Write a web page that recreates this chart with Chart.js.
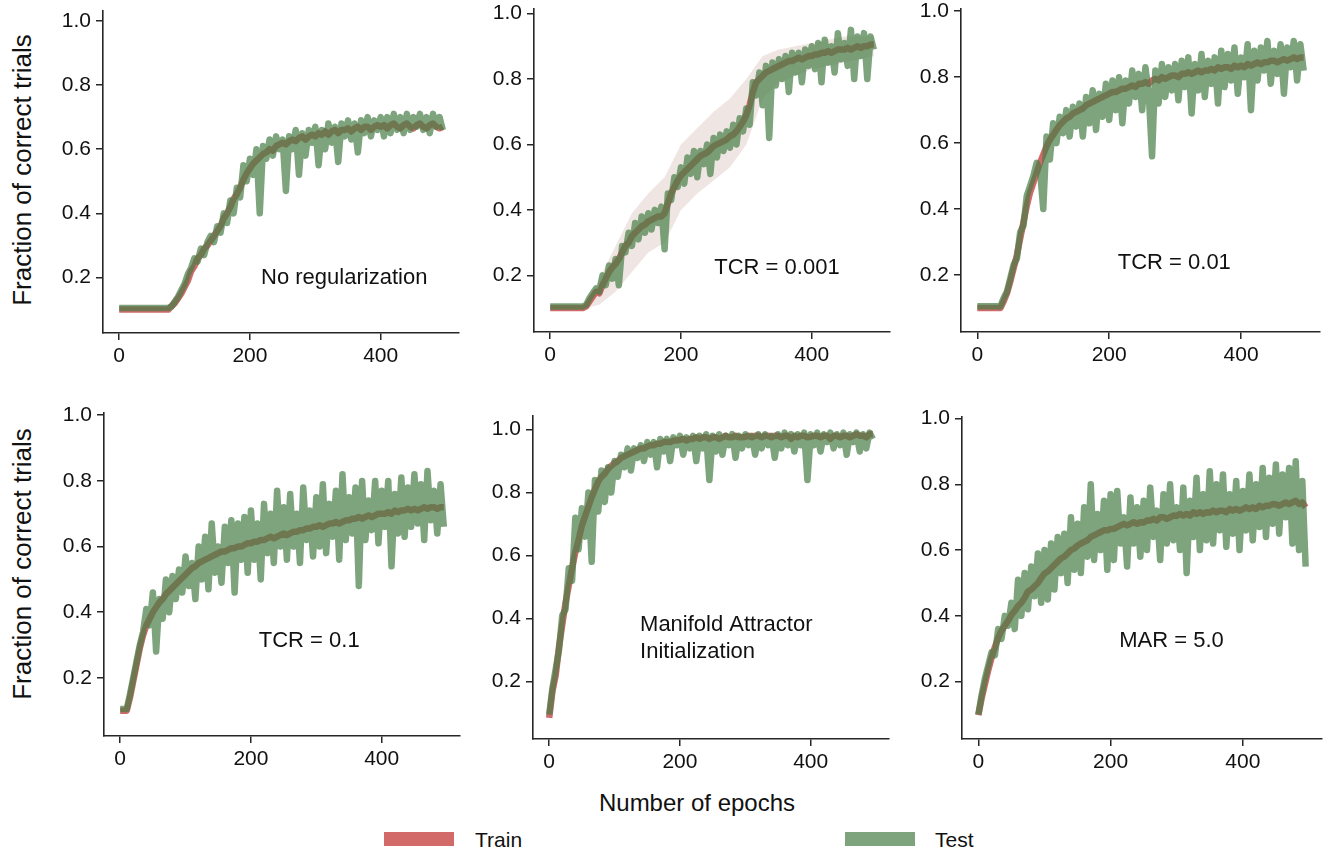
<!DOCTYPE html>
<html>
<head>
<meta charset="utf-8">
<script src="https://cdn.jsdelivr.net/npm/chart.js@4.4.1/dist/chart.umd.min.js"></script>
<style>
  body { margin: 0; background: #fff; }
  #fig { position: relative; width: 1335px; height: 859px; background: #fff; overflow: hidden;
         font-family: "Liberation Sans", Arial, Helvetica, sans-serif; color: #111; }
  #fig canvas { position: absolute; }
  .ylab { position: absolute; font-size: 26px; white-space: nowrap; transform: translate(-50%, -50%) rotate(-90deg); }
  .xlab { position: absolute; font-size: 24px; white-space: nowrap; transform: translate(-50%, -50%); }
  .patch { position: absolute; width: 70px; height: 14px; }
  .legtext { position: absolute; font-size: 21px; transform: translateY(-50%); }
</style>
</head>
<body>
<div id="fig">
  <canvas id="c1"></canvas><canvas id="c2"></canvas><canvas id="c3"></canvas>
  <canvas id="c4"></canvas><canvas id="c5"></canvas><canvas id="c6"></canvas>
  <div class="ylab" style="left:22px; top:170px;">Fraction of correct trials</div>
  <div class="ylab" style="left:22px; top:564px;">Fraction of correct trials</div>
  <div class="xlab" style="left:697px; top:803px;">Number of epochs</div>
  <div class="patch" style="left:384px; top:832px; background:rgb(210,106,106);"></div>
  <div class="legtext" style="left:475px; top:840px;">Train</div>
  <div class="patch" style="left:845px; top:832px; background:rgb(126,164,126);"></div>
  <div class="legtext" style="left:935px; top:840px;">Test</div>
</div>
<script>
// x positions of the samples (every 5 epochs)
const epochs = [0,5,10,15,20,25,30,35,40,45,50,55,60,65,70,75,80,85,90,95,
  100,105,110,115,120,125,130,135,140,145,150,155,160,165,170,175,180,185,190,195,
  200,205,210,215,220,225,230,235,240,245,250,255,260,265,270,275,280,285,290,295,
  300,305,310,315,320,325,330,335,340,345,350,355,360,365,370,375,380,385,390,395,
  400,405,410,415,420,425,430,435,440,445,450,455,460,465,470,475,480,485,490,495];

const xTicks = [0, 200, 400];
const yTicks = [0.2, 0.4, 0.6, 0.8, 1.0];

// No regularization
const p1Train = [0.10,0.10,0.10,0.10,0.10,0.10,0.10,0.10,0.10,0.10,
  0.10,0.10,0.10,0.10,0.10,0.10,0.11,0.12,0.135,0.15,
  0.17,0.19,0.22,0.235,0.26,0.27,0.29,0.30,0.315,0.33,
  0.345,0.36,0.385,0.40,0.42,0.445,0.46,0.48,0.505,0.525,
  0.54,0.555,0.565,0.575,0.585,0.59,0.60,0.595,0.61,0.615,
  0.62,0.615,0.625,0.63,0.625,0.635,0.64,0.63,0.64,0.645,
  0.64,0.65,0.645,0.655,0.645,0.655,0.66,0.65,0.66,0.66,
  0.665,0.655,0.665,0.67,0.66,0.67,0.67,0.66,0.67,0.675,
  0.67,0.675,0.665,0.675,0.68,0.67,0.665,0.675,0.68,0.67,
  0.665,0.675,0.68,0.67,0.665,0.675,0.68,0.67,0.665,0.67];
const p1Test = [0.105,0.105,0.105,0.105,0.105,0.105,0.105,0.105,0.105,0.105,
  0.105,0.105,0.105,0.105,0.105,0.105,0.11,0.125,0.14,0.16,
  0.18,0.21,0.23,0.26,0.25,0.29,0.27,0.31,0.33,0.31,
  0.36,0.34,0.40,0.37,0.44,0.40,0.48,0.45,0.55,0.50,
  0.57,0.52,0.60,0.40,0.61,0.57,0.63,0.58,0.64,0.60,
  0.63,0.47,0.64,0.60,0.66,0.52,0.65,0.58,0.66,0.62,
  0.67,0.55,0.66,0.60,0.68,0.62,0.67,0.56,0.68,0.64,
  0.69,0.63,0.68,0.59,0.69,0.65,0.70,0.64,0.69,0.66,
  0.70,0.64,0.70,0.65,0.71,0.66,0.70,0.65,0.71,0.66,
  0.70,0.67,0.71,0.66,0.70,0.65,0.71,0.67,0.70,0.66];

// TCR = 0.001
const p2Train = [0.10,0.10,0.10,0.10,0.10,0.10,0.10,0.10,0.10,0.10,
  0.10,0.105,0.12,0.135,0.15,0.145,0.17,0.19,0.21,0.225,
  0.235,0.25,0.27,0.29,0.30,0.32,0.33,0.34,0.35,0.355,
  0.365,0.37,0.375,0.38,0.38,0.39,0.42,0.45,0.47,0.49,
  0.505,0.515,0.525,0.535,0.545,0.555,0.565,0.57,0.575,0.585,
  0.595,0.60,0.605,0.61,0.615,0.625,0.63,0.64,0.655,0.67,
  0.69,0.72,0.76,0.79,0.80,0.81,0.82,0.825,0.83,0.835,
  0.84,0.845,0.85,0.855,0.855,0.86,0.865,0.86,0.865,0.87,
  0.87,0.875,0.875,0.88,0.88,0.885,0.88,0.885,0.89,0.89,
  0.89,0.895,0.89,0.895,0.90,0.895,0.90,0.90,0.905,0.905];
const p2Test = [0.105,0.105,0.105,0.105,0.105,0.105,0.105,0.105,0.105,0.105,
  0.105,0.11,0.13,0.145,0.16,0.15,0.20,0.17,0.23,0.19,
  0.25,0.17,0.29,0.27,0.33,0.29,0.36,0.31,0.38,0.33,
  0.39,0.34,0.40,0.36,0.41,0.28,0.45,0.43,0.50,0.47,
  0.53,0.48,0.56,0.51,0.58,0.50,0.58,0.54,0.60,0.51,
  0.62,0.56,0.63,0.58,0.64,0.59,0.66,0.60,0.68,0.64,
  0.71,0.66,0.79,0.75,0.82,0.72,0.84,0.62,0.85,0.78,
  0.86,0.80,0.87,0.76,0.88,0.82,0.88,0.79,0.89,0.84,
  0.90,0.83,0.91,0.79,0.92,0.85,0.90,0.82,0.94,0.86,
  0.91,0.84,0.95,0.80,0.93,0.87,0.94,0.80,0.93,0.89];
// spread of the train runs, TCR = 0.001
const p2BandEpochs = [55,75,100,125,150,175,200,225,250,275,300,325,350,400,450,495];
const p2BandHigh = [0.10,0.19,0.29,0.39,0.45,0.50,0.60,0.65,0.70,0.74,0.80,0.87,0.89,0.91,0.93,0.93];
const p2BandLow = [0.10,0.11,0.15,0.21,0.27,0.30,0.40,0.45,0.49,0.53,0.60,0.74,0.79,0.83,0.85,0.87];

// TCR = 0.01
const p3Train = [0.10,0.10,0.10,0.10,0.10,0.10,0.10,0.10,0.12,0.145,
  0.18,0.22,0.26,0.31,0.36,0.41,0.45,0.48,0.51,0.54,
  0.565,0.59,0.61,0.625,0.64,0.655,0.665,0.675,0.68,0.69,
  0.695,0.70,0.705,0.715,0.72,0.725,0.73,0.735,0.74,0.745,
  0.75,0.755,0.755,0.76,0.765,0.765,0.77,0.775,0.77,0.78,
  0.78,0.785,0.78,0.79,0.795,0.79,0.80,0.795,0.80,0.805,
  0.805,0.80,0.81,0.81,0.815,0.81,0.815,0.82,0.815,0.82,
  0.82,0.825,0.82,0.83,0.825,0.83,0.83,0.825,0.835,0.83,
  0.835,0.83,0.84,0.835,0.84,0.845,0.84,0.845,0.845,0.85,
  0.85,0.845,0.85,0.855,0.85,0.855,0.86,0.855,0.86,0.86];
const p3Test = [0.105,0.105,0.105,0.105,0.105,0.105,0.105,0.105,0.13,0.15,
  0.19,0.23,0.25,0.33,0.35,0.44,0.47,0.50,0.54,0.52,
  0.40,0.62,0.55,0.66,0.60,0.68,0.63,0.70,0.62,0.71,
  0.65,0.72,0.62,0.74,0.66,0.76,0.64,0.75,0.68,0.78,
  0.67,0.79,0.70,0.80,0.66,0.79,0.72,0.82,0.74,0.81,
  0.70,0.83,0.75,0.56,0.82,0.72,0.84,0.74,0.83,0.76,
  0.84,0.73,0.85,0.77,0.86,0.69,0.84,0.76,0.87,0.74,
  0.85,0.78,0.86,0.72,0.88,0.77,0.87,0.79,0.89,0.75,
  0.86,0.80,0.90,0.70,0.88,0.79,0.89,0.82,0.91,0.78,
  0.88,0.81,0.90,0.75,0.89,0.83,0.91,0.79,0.90,0.82];

// TCR = 0.1
const p4Train = [0.10,0.10,0.10,0.14,0.19,0.24,0.29,0.33,0.36,0.38,
  0.40,0.415,0.43,0.44,0.455,0.465,0.475,0.485,0.495,0.505,
  0.515,0.525,0.535,0.54,0.55,0.555,0.56,0.565,0.57,0.575,
  0.58,0.585,0.585,0.59,0.595,0.595,0.60,0.60,0.605,0.61,
  0.61,0.615,0.615,0.62,0.62,0.625,0.63,0.625,0.63,0.635,
  0.64,0.635,0.64,0.645,0.645,0.65,0.65,0.655,0.655,0.66,
  0.66,0.665,0.66,0.665,0.67,0.67,0.675,0.67,0.675,0.68,
  0.68,0.685,0.685,0.69,0.685,0.69,0.695,0.69,0.695,0.70,
  0.70,0.70,0.705,0.70,0.71,0.705,0.71,0.71,0.715,0.71,
  0.715,0.71,0.715,0.72,0.715,0.72,0.72,0.715,0.72,0.72];
const p4Test = [0.105,0.105,0.105,0.15,0.20,0.25,0.30,0.34,0.41,0.36,
  0.46,0.28,0.44,0.38,0.50,0.40,0.51,0.44,0.53,0.46,
  0.57,0.48,0.55,0.44,0.60,0.50,0.63,0.47,0.67,0.52,
  0.60,0.49,0.66,0.55,0.68,0.46,0.67,0.56,0.69,0.52,
  0.71,0.56,0.67,0.50,0.73,0.58,0.70,0.55,0.77,0.60,
  0.72,0.56,0.76,0.60,0.70,0.55,0.78,0.62,0.71,0.57,
  0.75,0.60,0.79,0.58,0.73,0.63,0.77,0.56,0.82,0.62,
  0.75,0.64,0.78,0.48,0.80,0.62,0.74,0.65,0.80,0.61,
  0.77,0.66,0.80,0.54,0.76,0.64,0.81,0.63,0.78,0.66,
  0.82,0.67,0.79,0.62,0.83,0.68,0.77,0.64,0.79,0.66];

// Manifold Attractor Initialization
const p5Train = [0.085,0.17,0.22,0.31,0.38,0.45,0.505,0.56,0.61,0.65,
  0.695,0.725,0.755,0.785,0.81,0.835,0.85,0.86,0.875,0.885,
  0.893,0.90,0.91,0.915,0.92,0.925,0.93,0.935,0.94,0.94,
  0.946,0.95,0.95,0.955,0.955,0.96,0.96,0.96,0.965,0.965,
  0.967,0.97,0.965,0.97,0.97,0.975,0.97,0.975,0.975,0.97,
  0.975,0.975,0.97,0.975,0.98,0.975,0.975,0.98,0.975,0.975,
  0.977,0.98,0.975,0.98,0.98,0.975,0.98,0.98,0.975,0.98,
  0.98,0.975,0.98,0.98,0.97,0.98,0.975,0.98,0.98,0.975,
  0.977,0.98,0.98,0.975,0.98,0.98,0.97,0.98,0.98,0.975,
  0.98,0.98,0.975,0.98,0.985,0.98,0.98,0.975,0.985,0.985];
const p5Test = [0.095,0.18,0.24,0.30,0.41,0.43,0.56,0.52,0.72,0.62,
  0.75,0.66,0.80,0.58,0.84,0.74,0.87,0.77,0.88,0.80,
  0.90,0.85,0.92,0.88,0.94,0.87,0.94,0.91,0.95,0.90,
  0.96,0.92,0.96,0.88,0.97,0.93,0.97,0.90,0.975,0.95,
  0.98,0.92,0.975,0.94,0.98,0.90,0.98,0.94,0.985,0.84,
  0.98,0.93,0.985,0.92,0.98,0.95,0.985,0.91,0.98,0.94,
  0.985,0.95,0.98,0.92,0.985,0.94,0.985,0.95,0.98,0.91,
  0.985,0.94,0.99,0.95,0.985,0.93,0.985,0.95,0.99,0.84,
  0.985,0.95,0.99,0.93,0.985,0.96,0.99,0.94,0.985,0.95,
  0.99,0.92,0.985,0.96,0.99,0.93,0.985,0.94,0.99,0.97];

// MAR = 5.0
const p6Train = [0.098,0.15,0.193,0.235,0.273,0.305,0.333,0.355,0.37,0.385,
  0.403,0.415,0.43,0.44,0.455,0.474,0.48,0.49,0.50,0.515,
  0.529,0.535,0.545,0.555,0.565,0.575,0.58,0.59,0.60,0.605,
  0.614,0.62,0.625,0.63,0.64,0.645,0.65,0.655,0.66,0.66,
  0.664,0.665,0.67,0.675,0.68,0.675,0.68,0.685,0.68,0.685,
  0.684,0.69,0.69,0.695,0.69,0.70,0.70,0.695,0.70,0.705,
  0.704,0.71,0.705,0.71,0.705,0.715,0.71,0.715,0.71,0.715,
  0.714,0.72,0.715,0.72,0.72,0.715,0.725,0.72,0.725,0.72,
  0.724,0.73,0.725,0.73,0.725,0.735,0.73,0.735,0.735,0.74,
  0.739,0.735,0.74,0.745,0.74,0.745,0.75,0.74,0.745,0.73];
const p6Test = [0.10,0.16,0.21,0.25,0.29,0.28,0.36,0.33,0.40,0.37,
  0.44,0.36,0.51,0.40,0.53,0.42,0.55,0.46,0.59,0.44,
  0.60,0.45,0.62,0.48,0.64,0.53,0.65,0.50,0.70,0.54,
  0.68,0.53,0.73,0.58,0.80,0.57,0.71,0.60,0.75,0.54,
  0.77,0.57,0.78,0.62,0.70,0.55,0.76,0.62,0.73,0.58,
  0.75,0.60,0.79,0.64,0.72,0.57,0.77,0.62,0.80,0.63,
  0.73,0.60,0.79,0.53,0.75,0.64,0.82,0.60,0.77,0.63,
  0.84,0.62,0.80,0.66,0.83,0.61,0.77,0.65,0.81,0.60,
  0.78,0.66,0.83,0.63,0.80,0.67,0.85,0.64,0.82,0.68,
  0.86,0.65,0.83,0.70,0.85,0.62,0.87,0.60,0.81,0.55];

const trainColor = 'rgba(200, 80, 80, 0.85)';
const testColor = 'rgba(70, 125, 70, 0.7)';
const bandColor = 'rgba(180, 135, 125, 0.22)';
const axisColor = '#262626';
const fontFamily = '"Liberation Sans", Arial, Helvetica, sans-serif';

// axes boxes in page pixels (left spine, top, right end, bottom spine)
const panels = [
  { id: 'c1', train: p1Train, test: p1Test, note: ['No regularization'], noteX: 217, noteY: 0.2,
    box: { l: 103, t: 7, r: 459, b: 333 }, yMin: 0.027, yMax: 1.032 },
  { id: 'c2', train: p2Train, test: p2Test, note: ['TCR = 0.001'], noteX: 251, noteY: 0.224,
    box: { l: 534, t: 5, r: 890, b: 332 }, yMin: 0.027, yMax: 1.015, band: true },
  { id: 'c3', train: p3Train, test: p3Test, note: ['TCR = 0.01'], noteX: 213, noteY: 0.238,
    box: { l: 961, t: 5, r: 1320, b: 332 }, yMin: 0.027, yMax: 1.008 },
  { id: 'c4', train: p4Train, test: p4Test, note: ['TCR = 0.1'], noteX: 212, noteY: 0.312,
    box: { l: 104, t: 409, r: 460, b: 736 }, yMin: 0.023, yMax: 1.008 },
  { id: 'c5', train: p5Train, test: p5Test, note: ['Manifold Attractor', 'Initialization'], noteX: 139, noteY: 0.381,
    box: { l: 533, t: 412, r: 889, b: 739 }, yMin: 0.018, yMax: 1.044 },
  { id: 'c6', train: p6Train, test: p6Test, note: ['MAR = 5.0'], noteX: 213, noteY: 0.323,
    box: { l: 962, t: 413, r: 1322, b: 739 }, yMin: 0.0255, yMax: 1.006 }
];

const yAxisWidth = 64, xAxisHeight = 46, padTop = 14, padRight = 6;

function toPoints(xs, ys) {
  return xs.map((x, i) => ({ x: x, y: ys[i] }));
}

panels.forEach(function (p) {
  const canvas = document.getElementById(p.id);
  const w = yAxisWidth + (p.box.r - p.box.l) + padRight;
  const h = padTop + (p.box.b - p.box.t) + xAxisHeight;
  canvas.width = w;
  canvas.height = h;
  canvas.style.left = (p.box.l - yAxisWidth) + 'px';
  canvas.style.top = (p.box.t - padTop) + 'px';
  canvas.style.width = w + 'px';
  canvas.style.height = h + 'px';

  const lineStyle = { pointRadius: 0, borderWidth: 6.5, borderJoinStyle: 'round', tension: 0, fill: false };
  // first dataset is drawn on top
  const datasets = [
    Object.assign({ label: 'Test', data: toPoints(epochs, p.test), borderColor: testColor }, lineStyle),
    Object.assign({ label: 'Train', data: toPoints(epochs, p.train), borderColor: trainColor }, lineStyle)
  ];
  if (p.band) {
    datasets.push({ label: 'band high', data: toPoints(p2BandEpochs, p2BandHigh), pointRadius: 0,
      borderWidth: 0, backgroundColor: bandColor, fill: '+1' });
    datasets.push({ label: 'band low', data: toPoints(p2BandEpochs, p2BandLow), pointRadius: 0,
      borderWidth: 0, fill: false });
  }

  // panel caption, placed in data coordinates
  const notePlugin = {
    id: 'note' + p.id,
    afterDatasetsDraw(chart) {
      const ctx = chart.ctx;
      const x = chart.scales.x.getPixelForValue(p.noteX);
      const y = chart.scales.y.getPixelForValue(p.noteY);
      ctx.save();
      ctx.font = '22px ' + fontFamily;
      ctx.fillStyle = '#111';
      ctx.textAlign = 'left';
      ctx.textBaseline = 'middle';
      p.note.forEach((line, i) => ctx.fillText(line, x, y + i * 27));
      ctx.restore();
    }
  };

  new Chart(canvas.getContext('2d'), {
    type: 'line',
    data: { datasets: datasets },
    plugins: [notePlugin],
    options: {
      responsive: false,
      animation: false,
      devicePixelRatio: 1,
      layout: { padding: { top: padTop, right: padRight, left: 0, bottom: 0 } },
      plugins: { legend: { display: false }, tooltip: { enabled: false } },
      scales: {
        x: {
          type: 'linear', min: -24.75, max: 519.75,
          afterBuildTicks: (axis) => { axis.ticks = xTicks.map(v => ({ value: v })); },
          afterFit: (axis) => { axis.height = xAxisHeight; },
          border: { display: true, color: axisColor, width: 1.6 },
          grid: { display: true, drawOnChartArea: false, drawTicks: true, tickLength: 7, color: axisColor, lineWidth: 1.5 },
          ticks: { color: '#111', font: { family: fontFamily, size: 21 }, padding: 4, maxRotation: 0, autoSkip: false,
                   callback: (v) => String(v) }
        },
        y: {
          type: 'linear', min: p.yMin, max: p.yMax,
          afterBuildTicks: (axis) => { axis.ticks = yTicks.map(v => ({ value: v })); },
          afterFit: (axis) => { axis.width = yAxisWidth; },
          border: { display: true, color: axisColor, width: 1.6 },
          grid: { display: true, drawOnChartArea: false, drawTicks: true, tickLength: 7, color: axisColor, lineWidth: 1.5 },
          ticks: { color: '#111', font: { family: fontFamily, size: 21 }, padding: 5, autoSkip: false,
                   callback: (v) => Number(v).toFixed(1) }
        }
      }
    }
  });
});
</script>
</body>
</html>
